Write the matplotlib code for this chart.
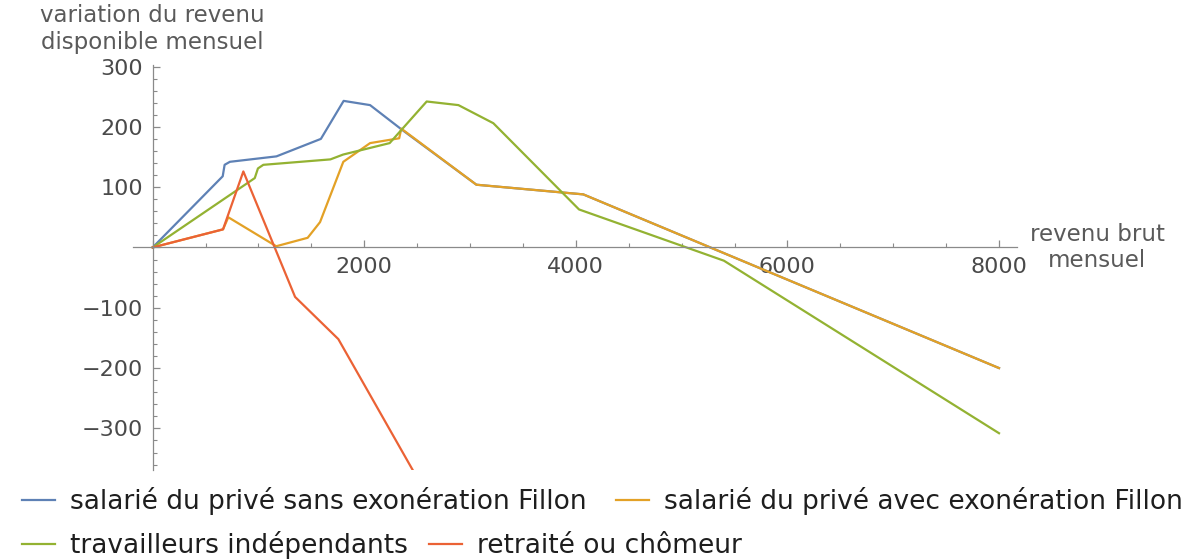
import matplotlib
matplotlib.use("Agg")
import matplotlib.pyplot as plt
from matplotlib.ticker import MultipleLocator, FuncFormatter

# ---- data ----
revenu_sans = [0, 662, 680, 730, 1170, 1590, 1805, 2055, 2350, 3060, 4070, 8000]
var_sans = [0, 118, 137, 142, 151, 180, 243, 236, 196, 104, 88, -200]

revenu_avec = [0, 665, 715, 1168, 1465, 1582, 1802, 2055, 2330, 2350, 3060, 4070, 8000]
var_avec = [0, 30, 50, 2, 16, 42, 142, 173, 181, 197, 104, 88, -200]

revenu_indep = [0, 965, 995, 1046, 1680, 1800, 2240, 2590, 2890, 3220, 4030, 5400, 8000]
var_indep = [0, 115, 131, 137, 146, 154, 173, 242, 236, 206, 63, -22, -308]

revenu_retraite = [0, 665, 857, 1346, 1755, 2500]
var_retraite = [0, 30, 126, -82, -152, -382]

labels = ["salarié du privé sans exonération Fillon",
          "salarié du privé avec exonération Fillon",
          "travailleurs indépendants",
          "retraité ou chômeur"]
colors = ["#5E81B5", "#E3A126", "#93B232", "#EB6235"]

x_label = "revenu brut\nmensuel"
y_label = "variation du revenu\ndisponible mensuel"

# ---- figure ----
W, H = 1195, 559
fig = plt.figure(figsize=(W / 100, H / 100), dpi=100)
ax = fig.add_axes([133 / W, 1 - 470 / H, 884 / W, 405 / H])

series = [(revenu_sans, var_sans), (revenu_avec, var_avec),
          (revenu_indep, var_indep), (revenu_retraite, var_retraite)]
handles = []
for (xs, ys), c, lab in zip(series, colors, labels):
    h, = ax.plot(xs, ys, color=c, lw=1.6, label=lab, solid_joinstyle="round")
    handles.append(h)

ax.set_xlim(-186, 8170)
ax.set_ylim(-369, 302.5)

axis_col = "#8a8a8a"
for s in ["top", "right"]:
    ax.spines[s].set_visible(False)
ax.spines["left"].set_position(("data", 0))
ax.spines["bottom"].set_position(("data", 0))
for s in ["left", "bottom"]:
    ax.spines[s].set_color(axis_col)
    ax.spines[s].set_linewidth(0.9)

ax.xaxis.set_major_locator(MultipleLocator(2000))
ax.xaxis.set_minor_locator(MultipleLocator(500))
ax.yaxis.set_major_locator(MultipleLocator(100))
ax.yaxis.set_minor_locator(MultipleLocator(20))


def fmt(v, pos):
    if abs(v) < 1e-9:
        return ""
    iv = int(round(v))
    return ("\u2212%d" % -iv) if iv < 0 else "%d" % iv


ax.xaxis.set_major_formatter(FuncFormatter(fmt))
ax.yaxis.set_major_formatter(FuncFormatter(fmt))

tick_col = "#4a4a4a"
ax.tick_params(axis="both", which="both", direction="in", color=axis_col,
               labelcolor=tick_col, labelsize=16)
ax.tick_params(axis="both", which="major", length=5, width=0.9)
ax.tick_params(axis="both", which="minor", length=2.7, width=0.8)
ax.tick_params(axis="x", which="major", pad=7)
ax.tick_params(axis="y", which="major", pad=7)

# axis labels (Mathematica style, at the axis ends)
ax.text(0, 1.089, y_label, transform=ax.get_xaxis_transform(),
        ha="center", va="center", fontsize=16.5, color="#5a5a5a",
        clip_on=False)
ax.text(1.0905, 0, x_label, transform=ax.get_yaxis_transform(),
        ha="center", va="center", fontsize=16.5, color="#5a5a5a",
        clip_on=False)

# legend: two flowing rows
leg_kw = dict(frameon=False, fontsize=19, handlelength=1.25,
              handletextpad=0.57, borderpad=0,
              borderaxespad=0, loc="center left", labelcolor="#1e1e1e")
leg1 = fig.legend(handles[0:2], labels[0:2], ncol=2, columnspacing=1.1,
                  bbox_to_anchor=(22 / W, 1 - 501 / H), **leg_kw)
leg2 = fig.legend(handles[2:4], labels[2:4], ncol=2, columnspacing=0.8,
                  bbox_to_anchor=(22 / W, 1 - 545 / H), **leg_kw)

fig.savefig("out.png", dpi=100)
